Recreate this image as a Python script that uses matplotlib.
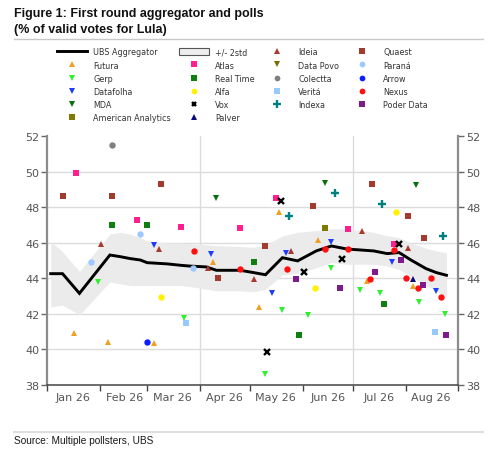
import matplotlib
matplotlib.use('Agg')
import matplotlib.pyplot as plt
import matplotlib.dates as mdates
import matplotlib.patches as mpatches
from matplotlib.lines import Line2D
import pandas as pd

plt.rcParams['font.family'] = 'DejaVu Sans'

# UBS aggregator and +/- 2std band
AGG_DATES = ['2026-01-03', '2026-01-10', '2026-01-20', '2026-02-07', '2026-02-13',
             '2026-02-19', '2026-02-25', '2026-03-01', '2026-03-13', '2026-03-21',
             '2026-03-26', '2026-04-05', '2026-04-11', '2026-04-25', '2026-05-03',
             '2026-05-10', '2026-05-20', '2026-05-29', '2026-06-09', '2026-06-18',
             '2026-06-27', '2026-07-13', '2026-07-21', '2026-07-28', '2026-08-04',
             '2026-08-13', '2026-08-19', '2026-08-25']
AGG_VALS = [44.27, 44.27, 43.16, 45.32, 45.23, 45.12, 45.04, 44.89, 44.82, 44.74,
            44.70, 44.65, 44.46, 44.46, 44.33, 44.21, 45.17, 44.99, 45.55, 45.83,
            45.66, 45.55, 45.40, 45.46, 45.04, 44.55, 44.33, 44.18]
BAND_HI = [46.1, 45.5, 44.4, 46.5, 46.6, 46.5, 46.3, 46.1, 46.0, 46.0,
           45.95, 45.9, 45.85, 45.8, 45.75, 45.9, 46.4, 46.6, 46.7, 46.8,
           46.8, 46.6, 46.4, 46.3, 46.0, 45.7, 45.55, 45.45]
BAND_LO = [42.4, 42.5, 41.95, 43.8, 43.7, 43.6, 43.6, 43.6, 43.6, 43.6,
           43.55, 43.4, 43.3, 43.3, 43.25, 43.4, 44.2, 44.3, 44.6, 44.9,
           44.8, 44.8, 44.7, 44.5, 44.1, 43.6, 43.3, 43.0]

# polls
FUTURA_DATES = ['2026-01-17', '2026-02-06', '2026-03-05', '2026-04-09', '2026-05-06',
                '2026-05-18', '2026-06-10', '2026-07-09', '2026-08-05']
FUTURA_VALS = [40.92, 40.41, 40.35, 44.95, 42.37, 47.72, 46.17, 43.85, 43.57]

GERP_DATES = ['2026-01-31', '2026-03-23', '2026-05-10', '2026-05-20', '2026-06-04',
              '2026-06-18', '2026-07-05', '2026-07-17', '2026-08-09', '2026-08-24']
GERP_VALS = [43.82, 41.79, 38.64, 42.25, 41.95, 44.59, 43.33, 43.20, 42.67, 42.01]

DATAFOLHA_DATES = ['2026-03-05', '2026-04-08', '2026-05-14', '2026-05-22', '2026-06-18',
                   '2026-07-24', '2026-08-19']
DATAFOLHA_VALS = [45.87, 45.38, 43.20, 45.46, 46.06, 44.93, 43.29]

MDA_DATES = ['2026-04-11', '2026-06-14', '2026-08-07']
MDA_VALS = [48.54, 49.36, 49.26]

AMERICAN_DATES = ['2026-06-14']
AMERICAN_VALS = [46.87]

ATLAS_DATES = ['2026-01-18', '2026-02-23', '2026-03-21', '2026-04-25', '2026-05-16',
               '2026-06-28', '2026-07-25']
ATLAS_VALS = [49.92, 47.32, 46.90, 46.85, 48.54, 46.81, 45.93]

REALTIME_DATES = ['2026-02-08', '2026-03-01', '2026-05-03', '2026-05-30', '2026-07-19']
REALTIME_VALS = [47.0, 47.0, 44.93, 40.84, 42.54]

ALFA_DATES = ['2026-03-09', '2026-06-08', '2026-07-26']
ALFA_VALS = [42.97, 43.44, 47.72]

VOX_DATES = ['2026-05-11', '2026-05-19', '2026-06-02', '2026-06-24', '2026-07-28']
VOX_VALS = [39.84, 48.39, 44.36, 45.08, 45.93]

PALVER_DATES = ['2026-08-05']
PALVER_VALS = [43.95]

IDEIA_DATES = ['2026-02-02', '2026-03-08', '2026-04-06', '2026-05-03', '2026-05-25',
               '2026-07-06', '2026-08-02']
IDEIA_VALS = [45.93, 45.68, 44.60, 43.99, 45.55, 46.68, 45.74]

DATAPOVO_DATES = []
DATAPOVO_VALS = []

COLECTTA_DATES = ['2026-02-08']
COLECTTA_VALS = [51.54]

VERITA_DATES = ['2026-03-24', '2026-08-18']
VERITA_VALS = [41.52, 41.01]

INDEXA_DATES = ['2026-05-24', '2026-06-20', '2026-07-18', '2026-08-23']
INDEXA_VALS = [47.53, 48.81, 48.17, 46.40]

QUAEST_DATES = ['2026-01-10', '2026-02-08', '2026-03-09', '2026-04-12', '2026-05-10',
                '2026-06-07', '2026-07-12', '2026-08-02', '2026-08-12']
QUAEST_VALS = [48.62, 48.62, 49.30, 44.00, 45.83, 48.07, 49.30, 47.53, 46.30]

PARANA_DATES = ['2026-01-27', '2026-02-25', '2026-03-28']
PARANA_VALS = [44.91, 46.49, 44.61]

ARROW_DATES = ['2026-03-01']
ARROW_VALS = [40.43]

NEXUS_DATES = ['2026-03-29', '2026-04-25', '2026-05-23', '2026-06-14', '2026-06-28',
               '2026-07-11', '2026-07-25', '2026-08-01', '2026-08-08', '2026-08-16',
               '2026-08-22']
NEXUS_VALS = [45.53, 44.55, 44.55, 45.64, 45.64, 43.95, 45.60, 44.04, 43.44, 44.04, 42.95]

PODER_DATES = ['2026-05-28', '2026-06-23', '2026-07-14', '2026-07-29', '2026-08-11',
               '2026-08-25']
PODER_VALS = [43.95, 43.44, 44.38, 45.02, 43.61, 40.82]

# (label, dates, values, marker, colour, size, edge width) in legend order
POLLS = [
    ('Futura', FUTURA_DATES, FUTURA_VALS, '^', '#F0A020', 4.6, 0),
    ('Gerp', GERP_DATES, GERP_VALS, 'v', '#2EF02E', 4.6, 0),
    ('Datafolha', DATAFOLHA_DATES, DATAFOLHA_VALS, 'v', '#1E3CFF', 4.6, 0),
    ('MDA', MDA_DATES, MDA_VALS, 'v', '#0A6E0A', 4.6, 0),
    ('American Analytics', AMERICAN_DATES, AMERICAN_VALS, 's', '#807800', 4.3, 0),
    ('Atlas', ATLAS_DATES, ATLAS_VALS, 's', '#FF1F8E', 4.3, 0),
    ('Real Time', REALTIME_DATES, REALTIME_VALS, 's', '#0F7F0F', 4.3, 0),
    ('Alfa', ALFA_DATES, ALFA_VALS, 'o', '#FFF200', 4.6, 0),
    ('Vox', VOX_DATES, VOX_VALS, 'x', '#000000', 3.8, 1.7),
    ('Palver', PALVER_DATES, PALVER_VALS, '^', '#0A0A80', 4.6, 0),
    ('Ideia', IDEIA_DATES, IDEIA_VALS, '^', '#A8392D', 4.6, 0),
    ('Data Povo', DATAPOVO_DATES, DATAPOVO_VALS, 'v', '#7A6E00', 4.6, 0),
    ('Colectta', COLECTTA_DATES, COLECTTA_VALS, 'o', '#808080', 4.6, 0),
    ('Veritá', VERITA_DATES, VERITA_VALS, 's', '#99C8FF', 4.3, 0),
    ('Indexa', INDEXA_DATES, INDEXA_VALS, '+', '#008080', 5.8, 1.7),
    ('Quaest', QUAEST_DATES, QUAEST_VALS, 's', '#A33A2E', 4.3, 0),
    ('Paraná', PARANA_DATES, PARANA_VALS, 'o', '#9EC8FF', 4.6, 0),
    ('Arrow', ARROW_DATES, ARROW_VALS, 'o', '#0A1EFF', 4.6, 0),
    ('Nexus', NEXUS_DATES, NEXUS_VALS, 'o', '#FF1010', 4.6, 0),
    ('Poder Data', PODER_DATES, PODER_VALS, 's', '#7F1A8C', 4.3, 0),
]

Y_TICKS = [38, 40, 42, 44, 46, 48, 50, 52]

fig = plt.figure(figsize=(5, 4.52), dpi=100, facecolor='white')
ax = fig.add_axes([0.0946, 0.146, 0.822, 0.550])

agg_x = pd.to_datetime(AGG_DATES)
band = ax.fill_between(agg_x, BAND_LO, BAND_HI, color='#ebebeb', lw=0, zorder=1)
agg_line, = ax.plot(agg_x, AGG_VALS, color='black', lw=2.1, zorder=3,
                    solid_joinstyle='miter')

handles = {}
for label, dates, vals, mk, col, ms, mew in POLLS:
    h, = ax.plot(pd.to_datetime(dates), vals, linestyle='none', marker=mk,
                 color=col, markersize=ms, markeredgewidth=mew, zorder=4)
    handles[label] = h

# axes styling
ax.set_ylim(38, 52)
ax.set_xlim(pd.Timestamp('2026-01-01'), pd.Timestamp('2026-09-01'))
ax.set_yticks(Y_TICKS)
ax.xaxis.set_major_locator(mdates.MonthLocator())
ax.xaxis.set_major_formatter(plt.NullFormatter())
ax.xaxis.set_minor_locator(mdates.MonthLocator(bymonthday=16))
ax.xaxis.set_minor_formatter(mdates.DateFormatter('%b %y'))
ax.tick_params(axis='x', which='major', length=4, width=1, color='#444', direction='out')
ax.tick_params(axis='x', which='minor', length=0, labelsize=8, labelcolor='#555', pad=5)
ax.tick_params(axis='y', length=4, width=1, color='#666', labelsize=8, labelcolor='#555',
               left=True, right=True, labelleft=True, labelright=True, pad=1.5)

for s in ('left', 'right'):
    ax.spines[s].set_color('#8c8c8c')
    ax.spines[s].set_linewidth(1.6)
ax.spines['bottom'].set_color('#444')
ax.spines['bottom'].set_linewidth(1.1)
ax.spines['top'].set_visible(False)

for v in Y_TICKS[1:-1]:
    ax.axhline(v, color='#dcdcdc', lw=1, zorder=0)
for d in ('2026-04-01', '2026-07-01'):
    ax.axvline(pd.Timestamp(d), color='#dcdcdc', lw=1, zorder=0)

# legend
band_patch = mpatches.Patch(facecolor='#eeeeee', edgecolor='#555555', lw=0.8)
leg_handles = [agg_line] + [handles[p[0]] for p in POLLS[:5]] + [band_patch] \
    + [handles[p[0]] for p in POLLS[5:]]
leg_labels = ['UBS Aggregator'] + [p[0] for p in POLLS[:5]] + ['+/- 2std'] \
    + [p[0] for p in POLLS[5:]]
leg = fig.legend(leg_handles, leg_labels, ncol=4, loc='upper left',
                 bbox_to_anchor=(0.114, 0.893), frameon=False, fontsize=5.75,
                 borderpad=0, borderaxespad=0, handlelength=3.8, handleheight=0.9,
                 handletextpad=0.75, columnspacing=0.95, labelspacing=0.52,
                 markerscale=0.9)
for t in leg.get_texts():
    t.set_color('#333333')

# titles and rules
fig.text(0.028, 1 - 16.7 / 452, 'Figure 1: First round aggregator and polls',
         family='Liberation Sans', fontweight='bold', fontsize=9, va='baseline',
         color='#111111')
fig.text(0.028, 1 - 33.5 / 452, '(% of valid votes for Lula)',
         family='Liberation Sans', fontweight='bold', fontsize=9, va='baseline',
         color='#111111')
fig.add_artist(Line2D([0.028, 0.966], [1 - 40 / 452] * 2, color='#c8c8c8', lw=1))
fig.add_artist(Line2D([0.028, 0.966], [1 - 432.5 / 452] * 2, color='#dddddd', lw=1.4))
fig.text(0.028, 1 - 444 / 452, 'Source: Multiple pollsters, UBS',
         family='Liberation Sans', fontsize=7.3, va='baseline', color='#1a1a1a')

fig.savefig('out.png', dpi=100, facecolor='white')
